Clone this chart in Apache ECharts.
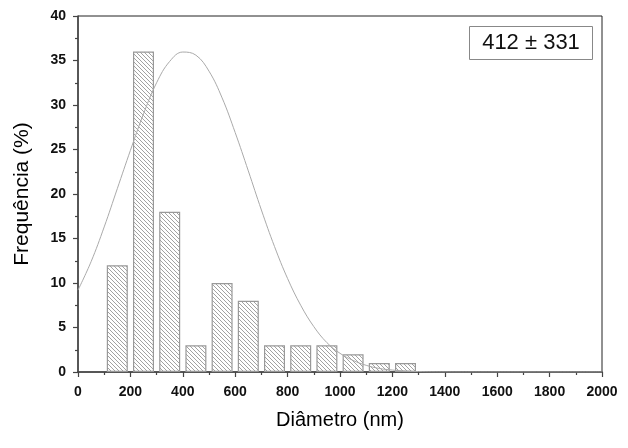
<!DOCTYPE html>
<html>
<head>
<meta charset="utf-8">
<script src="https://cdn.jsdelivr.net/npm/echarts@6/dist/echarts.min.js"></script>
<style>
  html, body { margin: 0; padding: 0; background: #fff; }
  #main { width: 628px; height: 448px; }
</style>
</head>
<body>
<div id="main"></div>
<script>
// histogram bins (nm) and frequency (%)
var binCenters = [150, 250, 350, 450, 550, 650, 750, 850, 950, 1050, 1150, 1250];
var freq = [12, 36, 18, 3, 10, 8, 3, 3, 3, 2, 1, 1];

// fitted curve
var curveX = [0, 50, 100, 150, 200, 250, 300, 350, 400, 450, 500, 550, 600, 650, 700, 750, 800,
    850, 900, 950, 1000, 1050, 1100, 1150, 1200, 1250, 1300, 1350, 1400, 1450, 1500, 1550, 1600,
    1650, 1700, 1750, 1800, 1850, 1900, 1950, 2000];
var curveY = [9.2, 12.4, 16.3, 20.6, 24.9, 29.0, 32.5, 34.9, 35.95, 35.6, 33.8, 30.8, 26.9, 22.6, 18.2, 14.1, 10.5,
    7.5, 5.1, 3.3, 2.1, 1.3, 0.75, 0.4, 0.22, 0.11, 0.05, 0.02, 0.01, 0, 0, 0, 0,
    0, 0, 0, 0, 0, 0, 0, 0];

var xTicks = ['0', '200', '400', '600', '800', '1000', '1200', '1400', '1600', '1800', '2000'];
var label = '412 \u00b1 331';

// hatch pattern
var hatch = document.createElement('canvas');
hatch.width = 4;
hatch.height = 4;
var ctx = hatch.getContext('2d');
ctx.strokeStyle = '#8a8a8a';
ctx.lineWidth = 0.8;
ctx.beginPath();
ctx.moveTo(-1, -1); ctx.lineTo(5, 5);
ctx.moveTo(3, -1); ctx.lineTo(5, 1);
ctx.moveTo(-1, 3); ctx.lineTo(1, 5);
ctx.stroke();

var barData = [];
for (var i = 0; i < binCenters.length; i++) {
    barData.push([binCenters[i], freq[i]]);
}
var lineData = [];
for (var j = 0; j < curveX.length; j++) {
    lineData.push([curveX[j], curveY[j]]);
}

var chart = echarts.init(document.getElementById('main'));

var option = {
    animation: false,
    grid: {
        left: 78, right: 26, top: 16, bottom: 76,
        show: true, borderColor: '#222', borderWidth: 1
    },
    xAxis: {
        type: 'value',
        min: 0, max: 2000, interval: 200,
        name: 'Diâmetro (nm)',
        nameLocation: 'middle',
        nameGap: 38,
        nameTextStyle: { fontFamily: 'Liberation Sans', fontSize: 20, color: '#000' },
        axisLine: { lineStyle: { color: '#444', width: 1.5 } },
        axisTick: { length: 5, lineStyle: { color: '#444', width: 1.2 } },
        minorTick: { show: true, splitNumber: 2, length: 3, lineStyle: { color: '#444', width: 1.2 } },
        splitLine: { show: false },
        axisLabel: {
            margin: 13, fontFamily: 'Liberation Sans', fontSize: 14, fontWeight: 'bold', color: '#111',
            formatter: function (v) { return xTicks[Math.round(v / 200)]; }
        }
    },
    yAxis: {
        type: 'value',
        min: 0, max: 40, interval: 5,
        name: 'Frequência (%)',
        nameLocation: 'middle',
        nameGap: 45,
        nameTextStyle: { fontFamily: 'Liberation Sans', fontSize: 21, color: '#000' },
        axisLine: { show: true, lineStyle: { color: '#444', width: 1.5 } },
        axisTick: { show: true, length: 5, lineStyle: { color: '#444', width: 1.2 } },
        minorTick: { show: true, splitNumber: 2, length: 3, lineStyle: { color: '#444', width: 1.2 } },
        splitLine: { show: false },
        axisLabel: { margin: 12, fontFamily: 'Liberation Sans', fontSize: 14, fontWeight: 'bold', color: '#111' }
    },
    series: [{
        type: 'bar',
        data: barData,
        barWidth: 21,
        itemStyle: {
            color: { image: hatch, repeat: 'repeat' },
            borderColor: '#999',
            borderWidth: 1.2
        },
        z: 2
    }, {
        type: 'line',
        data: lineData,
        smooth: 0.4,
        symbol: 'none',
        lineStyle: { color: '#aaa', width: 1 },
        z: 3
    }],
    graphic: [{
        type: 'rect',
        shape: { x: 469.5, y: 26.5, width: 123, height: 33 },
        style: { fill: '#fff', stroke: '#888', lineWidth: 1 },
        z: 10
    }, {
        type: 'text',
        x: 531, y: 43,
        style: {
            text: label, fontFamily: 'Liberation Sans', fontSize: 22, fill: '#111',
            align: 'center', verticalAlign: 'middle'
        },
        z: 11
    }]
};

chart.setOption(option);
</script>
</body>
</html>
